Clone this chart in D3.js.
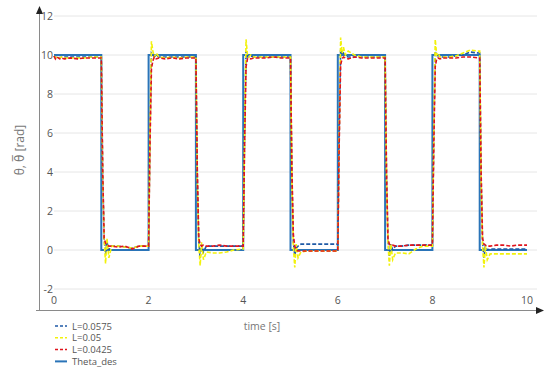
<!DOCTYPE html>
<html>
<head>
<meta charset="utf-8">
<script src="https://cdn.jsdelivr.net/npm/d3@7"></script>
<style>
  body { margin: 0; background: #fff; }
  svg { font-family: "Open Sans", "DejaVu Sans", sans-serif; }
</style>
</head>
<body>
<svg id="chart"></svg>
<script>
// time samples shared by the three response series
const time = [
  0, 0.03, 0.06, 0.09, 0.12, 0.16, 0.22, 0.35, 0.5, 0.65, 0.8, 0.97,
  1, 1.03, 1.06, 1.09, 1.12, 1.16, 1.22, 1.35, 1.5, 1.65, 1.8, 1.97,
  2, 2.03, 2.06, 2.09, 2.12, 2.16, 2.22, 2.35, 2.5, 2.65, 2.8, 2.97,
  3, 3.03, 3.06, 3.09, 3.12, 3.16, 3.22, 3.35, 3.5, 3.65, 3.8, 3.97,
  4, 4.03, 4.06, 4.09, 4.12, 4.16, 4.22, 4.35, 4.5, 4.65, 4.8, 4.97,
  5, 5.03, 5.06, 5.09, 5.12, 5.16, 5.22, 5.35, 5.5, 5.65, 5.8, 5.97,
  6, 6.03, 6.06, 6.09, 6.12, 6.16, 6.22, 6.35, 6.5, 6.65, 6.8, 6.97,
  7, 7.03, 7.06, 7.09, 7.12, 7.16, 7.22, 7.35, 7.5, 7.65, 7.8, 7.97,
  8, 8.03, 8.06, 8.09, 8.12, 8.16, 8.22, 8.35, 8.5, 8.65, 8.8, 8.97,
  9, 9.03, 9.06, 9.09, 9.12, 9.16, 9.22, 9.35, 9.5, 9.65, 9.8, 9.97,
  10
]

const L0575 = [
  9.95, 9.85, 9.9, 9.9, 9.85, 9.9, 9.9, 9.9, 9.9, 9.9, 9.9, 9.9,
  9.9, 3.8, 0.6, -0.2, 0.4, 0.0, 0.2, 0.2, 0.15, 0.1, 0.2, 0.2,
  0.2, 6.0, 10.1, 10.0, 9.9, 10.0, 9.9, 9.9, 9.9, 9.9, 9.9, 9.9,
  9.9, 3.8, 0.5, -0.4, 0.3, -0.1, 0.2, 0.2, 0.2, 0.2, 0.2, 0.2,
  0.2, 6.0, 10.2, 9.9, 9.9, 9.95, 9.9, 9.9, 9.9, 9.9, 9.9, 9.9,
  9.9, 3.8, 0.4, -0.3, 0.1, 0.2, 0.3, 0.3, 0.3, 0.3, 0.3, 0.3,
  0.3, 6.0, 10.3, 10.0, 10.1, 9.95, 9.9, 9.9, 9.9, 9.9, 9.9, 9.9,
  9.9, 3.8, 0.5, -0.3, 0.3, 0.0, 0.2, 0.2, 0.25, 0.25, 0.25, 0.25,
  0.25, 6.0, 10.2, 9.9, 10.0, 9.9, 9.9, 9.9, 9.95, 10.0, 10.15, 10.1,
  10.1, 3.8, 0.4, -0.4, 0.2, 0.0, 0.05, 0.05, 0.05, 0.05, 0.05, 0.05,
  0.05
]

const L05 = [
  9.95, 9.85, 9.9, 9.85, 9.85, 9.9, 9.85, 9.85, 9.85, 9.85, 9.9, 9.9,
  9.9, 3.5, 0.5, -0.7, 0.6, -0.4, 0.2, 0.2, 0.15, 0.1, 0.2, 0.2,
  0.2, 6.0, 10.7, 10.2, 9.9, 10.1, 9.9, 9.85, 9.9, 9.85, 9.9, 9.9,
  9.9, 3.5, 0.3, -0.8, 0.4, -0.5, -0.1, -0.15, -0.15, -0.1, 0.0, 0.05,
  0.05, 6.0, 10.8, 10.0, 9.9, 10.0, 9.9, 9.9, 9.9, 9.9, 9.9, 9.9,
  9.9, 3.5, 0.2, -0.9, 0.3, -0.4, -0.1, -0.05, -0.05, -0.05, -0.05, -0.05,
  -0.05, 6.0, 10.9, 10.1, 10.4, 10.0, 10.2, 10.0, 9.9, 9.9, 9.9, 9.9,
  9.9, 3.5, 0.4, -0.8, 0.3, -0.5, -0.15, -0.15, -0.2, 0.05, 0.2, 0.2,
  0.2, 6.0, 10.8, 10.0, 10.1, 9.9, 9.9, 9.9, 9.95, 10.1, 10.25, 10.2,
  10.2, 3.5, 0.3, -0.9, 0.2, -0.5, -0.2, -0.2, -0.2, -0.2, -0.2, -0.2,
  -0.2
]

const L0425 = [
  9.95, 9.8, 9.9, 9.85, 9.8, 9.85, 9.8, 9.85, 9.8, 9.85, 9.85, 9.85,
  9.85, 4.0, 0.6, 0.35, 0.25, 0.2, 0.2, 0.15, 0.2, 0.05, 0.2, 0.2,
  0.2, 5.5, 9.3, 9.7, 9.9, 9.8, 9.85, 9.8, 9.85, 9.8, 9.85, 9.85,
  9.85, 4.0, 0.6, 0.3, 0.2, 0.25, 0.2, 0.2, 0.25, 0.2, 0.2, 0.2,
  0.2, 5.5, 9.4, 9.8, 9.85, 9.8, 9.85, 9.85, 9.85, 9.9, 9.85, 9.85,
  9.85, 4.0, 0.8, 0.2, 0.0, -0.05, -0.05, -0.05, -0.05, -0.05, -0.05, -0.05,
  -0.05, 5.5, 9.5, 9.8, 9.9, 9.85, 9.8, 9.9, 9.85, 9.85, 9.85, 9.85,
  9.85, 4.0, 0.6, 0.3, 0.25, 0.25, 0.2, 0.2, 0.25, 0.25, 0.25, 0.25,
  0.25, 5.5, 9.4, 9.8, 9.85, 9.8, 9.85, 9.85, 9.85, 9.9, 9.9, 9.85,
  9.85, 4.0, 0.6, 0.3, 0.25, 0.2, 0.2, 0.25, 0.25, 0.2, 0.25, 0.25,
  0.25
]

// desired angle, held until the next time step
const desTime  = [0, 1, 2, 3, 4, 5, 6, 7, 8, 9, 10]
const desTheta = [10, 0, 10, 0, 10, 0, 10, 0, 10, 0, 0]

const yTicks = [-2, 0, 2, 4, 6, 8, 10, 12]
const xTicks = [0, 2, 4, 6, 8, 10]

const width = 550, height = 373

const svg = d3.select("#chart")
    .attr("width", width)
    .attr("height", height)

const x = d3.scaleLinear().domain([0, 10]).range([54, 527])
const y = d3.scaleLinear().domain([-2, 12]).range([289, 16])

// horizontal grid
svg.append("g")
    .selectAll("line")
    .data(yTicks)
    .enter()
    .append("line")
    .attr("x1", x(0))
    .attr("x2", 537)
    .attr("y1", d => y(d))
    .attr("y2", d => y(d))
    .style("stroke", "#e6e6e6")
    .style("stroke-width", 1)

// axes lines with arrows
const axisColor = "#8a8a8a"
svg.append("line")
    .attr("x1", 39.5).attr("x2", 39.5)
    .attr("y1", 310).attr("y2", 12)
    .style("stroke", axisColor)
svg.append("path")
    .attr("d", "M36,14 L39.5,6 L43,14 Z")
    .attr("fill", "#222")
svg.append("line")
    .attr("x1", 36).attr("x2", 538)
    .attr("y1", 310.5).attr("y2", 310.5)
    .style("stroke", axisColor)
svg.append("path")
    .attr("d", "M536,307 L544,310.5 L536,314 Z")
    .attr("fill", "#222")

// tick labels
svg.append("g")
    .selectAll("text")
    .data(yTicks)
    .enter()
    .append("text")
    .attr("x", 53)
    .attr("y", d => y(d) + 4)
    .attr("text-anchor", "end")
    .style("font-size", "10.5px")
    .style("fill", "#555")
    .text(d => d)

svg.append("g")
    .selectAll("text")
    .data(xTicks)
    .enter()
    .append("text")
    .attr("x", d => x(d))
    .attr("y", 304)
    .attr("text-anchor", "middle")
    .style("font-size", "10.5px")
    .style("fill", "#555")
    .text(d => d)

// axis titles
svg.append("text")
    .attr("transform", "translate(24,150) rotate(-90)")
    .attr("text-anchor", "middle")
    .style("font-size", "12px")
    .style("fill", "#777")
    .text("θ, θ\u0305 [rad]")

svg.append("text")
    .attr("x", 262)
    .attr("y", 330)
    .attr("text-anchor", "middle")
    .style("font-size", "10.5px")
    .style("fill", "#777")
    .text("time [s]")

// data lines
const series = [
    { name: "L=0.0575", values: L0575, color: "#1f5aa6", dash: "4,2" },
    { name: "L=0.05",   values: L05,   color: "#f2f20a", dash: "4,2" },
    { name: "L=0.0425", values: L0425, color: "#e0141c", dash: "4,2" }
]

const desLine = d3.line()
    .x(d => x(d[0]))
    .y(d => y(d[1]))
    .curve(d3.curveStepAfter)

svg.append("path")
    .datum(desTime.map((t, i) => [t, desTheta[i]]))
    .attr("d", desLine)
    .attr("fill", "none")
    .style("stroke", "#2a74b8")
    .style("stroke-width", 2)

const respLine = d3.line()
    .x(d => x(d[0]))
    .y(d => y(d[1]))

series.forEach(s => {
    svg.append("path")
        .datum(time.map((t, i) => [t, s.values[i]]))
        .attr("d", respLine)
        .attr("fill", "none")
        .style("stroke", s.color)
        .style("stroke-width", 1.6)
        .style("stroke-dasharray", s.dash)
})

// legend
const legendItems = series.map(s => ({ name: s.name, color: s.color, dash: s.dash }))
legendItems.push({ name: "Theta_des", color: "#2a74b8", dash: null })

const legend = svg.append("g")
    .selectAll("g")
    .data(legendItems)
    .enter()
    .append("g")
    .attr("transform", (d, i) => "translate(55," + (326 + i * 11.8) + ")")

legend.append("line")
    .attr("x1", 0).attr("x2", 12)
    .attr("y1", 0).attr("y2", 0)
    .style("stroke", d => d.color)
    .style("stroke-width", d => d.dash ? 1.5 : 2)
    .style("stroke-dasharray", d => d.dash ? "3,2" : null)

legend.append("text")
    .attr("x", 17)
    .attr("y", 3.5)
    .style("font-size", "9.5px")
    .style("fill", "#555")
    .text(d => d.name)
</script>
</body>
</html>
